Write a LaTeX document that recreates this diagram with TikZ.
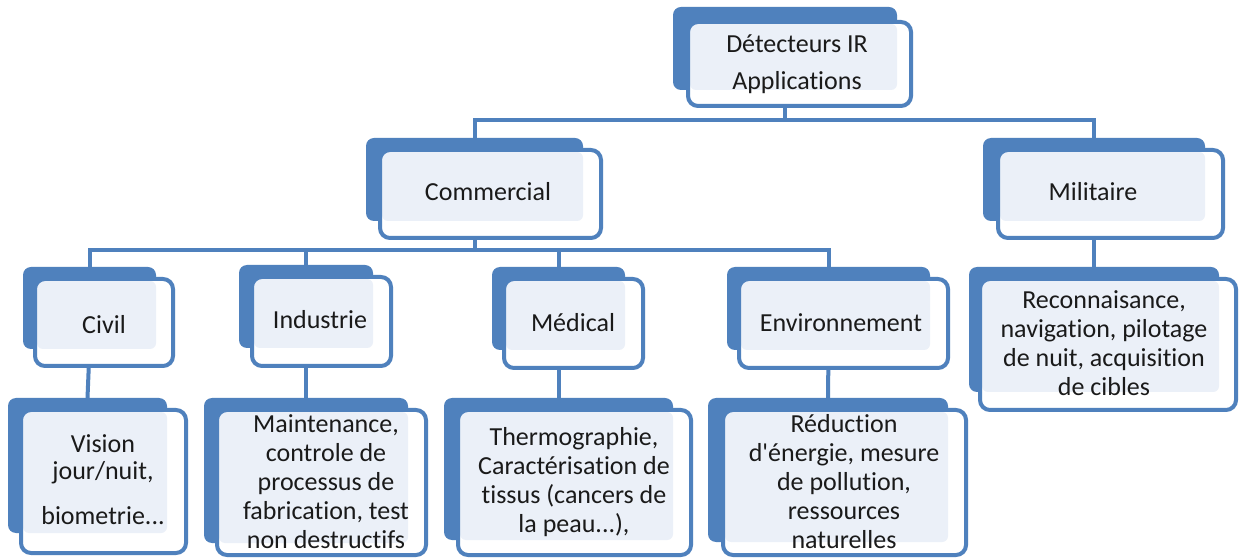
\documentclass[tikz,border=0pt]{standalone}
\usepackage{fontspec}
\setmainfont{Carlito}[Ligatures={TeXOff,NoCommon}]
\usetikzlibrary{fit,calc}
\pgfdeclarelayer{paper}
\pgfdeclarelayer{wires}
\pgfsetlayers{paper,wires,main}
\definecolor{irblue}{HTML}{4F81BD}
\definecolor{irlight}{HTML}{EBF0F8}
\definecolor{irtext}{HTML}{1A1A1A}
\tikzset{
  backbox/.style={fill=irblue, rounded corners=4pt, inner sep=0pt, outer sep=0pt},
  frontbox/.style={fill=white, rounded corners=5pt, inner sep=-1pt, outer sep=0pt},
  frontline/.style={draw=irblue, line width=2pt, rounded corners=5pt},
  lightfill/.style={fill=irlight, rounded corners=3pt},
  conn/.style={draw=irblue, line width=2pt},
  lbl/.style={text=irtext, align=center, font=\fontsize{13pt}{14.5pt}\selectfont, inner sep=0pt}
}
\newcommand\irbox[9]{%
  \node[backbox, fit={(#2,#3) (#4,#5)}] (#1b) {};
  \node[frontbox, fit={(#6,#7) (#8,#9)}] (#1f) {};
  \path[lightfill] ($(#1f.north west)+(2,2)$) rectangle (#1b.south east);
  \path[frontline] (#1f.north west) rectangle (#1f.south east);
}
\begin{document}
\begin{tikzpicture}[x=0.5pt,y=-0.5pt]
\begin{pgfonlayer}{paper}
  \fill[white] (0,0) rectangle (1240,560);
\end{pgfonlayer}
\useasboundingbox (0,0) rectangle (1240,560);

\irbox{top}{673}{7}{897}{90}{686}{20}{913}{108}
\irbox{com}{366}{138}{583}{221}{378}{148}{603}{240}
\irbox{mil}{983}{138}{1205}{221}{996}{148}{1225}{240}
\irbox{civ}{23}{267}{156}{349}{33}{277}{175}{368}
\irbox{ind}{239}{265}{373}{348}{250}{275}{393}{368}
\irbox{med}{492}{267}{625}{350}{502}{277}{645}{370}
\irbox{env}{727}{267}{930}{350}{737}{277}{950}{370}
\irbox{rec}{969}{267}{1219}{392}{978}{277}{1238}{412}
\irbox{vis}{8}{398}{167}{533}{19}{408}{188}{555}
\irbox{mai}{204}{398}{408}{543}{215}{408}{428}{557}
\irbox{the}{444}{398}{673}{540}{456}{408}{693}{557}
\irbox{red}{708}{398}{948}{542}{721}{408}{968}{557}

\coordinate (bus1) at (0,120);
\coordinate (bus2) at (0,250);
\begin{pgfonlayer}{wires}
  \draw[conn] (topb.south) -- (topb.south |- bus1) -| (comb.north);
  \draw[conn] (topb.south |- bus1) -| (milb.north);
  \draw[conn] (comb.south) -- (comb.south |- bus2) -| (civb.north);
  \draw[conn] (comb.south |- bus2) -| (indb.north);
  \draw[conn] (comb.south |- bus2) -| (medb.north);
  \draw[conn] (comb.south |- bus2) -| (envb.north);
  \draw[conn] (civb.south) -- (visb.north);
  \draw[conn] (indb.south) -- (maib.north);
  \draw[conn] (medb.south) -- (theb.north);
  \draw[conn] (envb.south) -- (redb.north);
  \draw[conn] (milb.south) -- (recb.north);
\end{pgfonlayer}

\node[lbl, font=\fontsize{13pt}{18.5pt}\selectfont] (ttop) at (797,64) {Détecteurs IR\\Applications};
\node[lbl] (tcom) at (488,192) {Commercial};
\node[lbl] (tmil) at (1093,192) {Militaire};
\node[lbl] (tciv) at (104,325) {Civil};
\node[lbl] (tind) at (320,320) {Industrie};
\node[lbl] (tmed) at (573,323) {Médical};
\node[lbl] (tenv) at (841,323) {Environnement};
\node[lbl] (trec) at (1104,343) {Reconnaisance,\\navigation, pilotage\\de nuit, acquisition\\de cibles};
\node[lbl, font=\fontsize{13pt}{13.5pt}\selectfont] (tvis) at (103,480) {Vision\\jour/nuit,\\[9pt]biometrie...};
\node[lbl] (tmai) at (326,482) {Maintenance,\\controle de\\processus de\\fabrication, test\\non destructifs};
\node[lbl] (tthe) at (574,482) {Thermographie,\\Caractérisation de\\tissus (cancers de\\la peau...),};
\node[lbl] (tred) at (844,482) {Réduction\\d'énergie, mesure\\de pollution,\\ressources\\naturelles};
\end{tikzpicture}
\end{document}
